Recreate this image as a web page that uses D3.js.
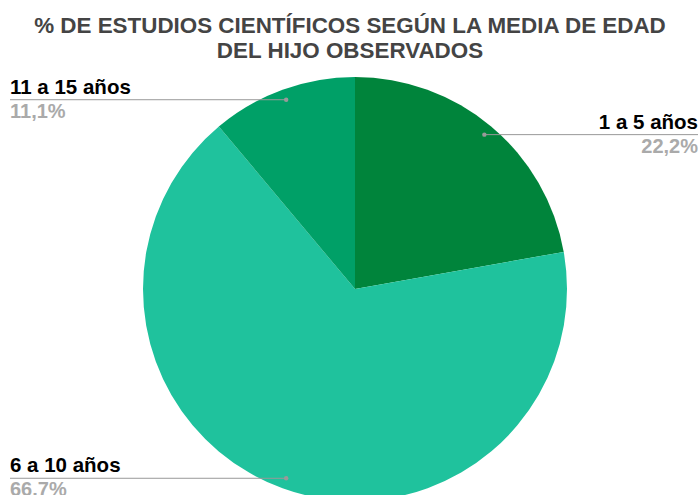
<!DOCTYPE html>
<html>
<head>
<meta charset="utf-8">
<script src="https://cdn.jsdelivr.net/npm/d3@7"></script>
<style>
  html, body { margin: 0; padding: 0; background: #fff; }
  svg { display: block; }
  text { font-family: "Liberation Sans", Arial, sans-serif; }
</style>
</head>
<body>
<svg id="chart" width="700" height="495"></svg>
<script>
// Age groups of the observed child and their share of studies
const categories = ["1 a 5 años", "6 a 10 años", "11 a 15 años"];
const values = [22.2, 66.7, 11.1];
const pctLabels = ["22,2%", "66.7%", "11,1%"];
const colors = ["#00843b", "#1fc29d", "#00a067"];
const titleLines = ["% DE ESTUDIOS CIENTÍFICOS SEGÚN LA MEDIA DE EDAD", "DEL HIJO OBSERVADOS"];

const W = 700, H = 495;
const cx = 355, cy = 289, R = 212;

const svg = d3.select("#chart");

// Title
svg.append("g").selectAll("text")
  .data(titleLines)
  .join("text")
  .attr("x", W / 2)
  .attr("y", (d, i) => 33 + i * 24.5)
  .attr("text-anchor", "middle")
  .attr("font-size", 22.4)
  .attr("font-weight", "bold")
  .attr("fill", "#444")
  .text(d => d);

const data = categories.map((c, i) => ({ cat: c, value: values[i], pct: pctLabels[i], color: colors[i] }));

const pie = d3.pie().sort(null).value(d => d.value);
const arcs = pie(data);
const arc = d3.arc().innerRadius(0).outerRadius(R);
const anchorArc = d3.arc().innerRadius(R * 0.95).outerRadius(R * 0.95);

const g = svg.append("g").attr("transform", `translate(${cx},${cy})`);

g.selectAll("path")
  .data(arcs)
  .join("path")
  .attr("d", arc)
  .attr("fill", d => d.data.color);

// Leader lines and labels
const labels = svg.append("g");
arcs.forEach(a => {
  const [px, py] = anchorArc.centroid(a);
  const x = cx + px, y = cy + py;
  const mid = (a.startAngle + a.endAngle) / 2;
  const right = Math.sin(mid) > 0;
  const x2 = right ? 698 : 10;
  labels.append("line")
    .attr("x1", x).attr("y1", y)
    .attr("x2", x2).attr("y2", y)
    .attr("stroke", "#999").attr("stroke-width", 1);
  labels.append("circle")
    .attr("cx", x).attr("cy", y).attr("r", 2.2)
    .attr("fill", "#999");
  labels.append("text")
    .attr("x", x2).attr("y", y - 6)
    .attr("text-anchor", right ? "end" : "start")
    .attr("font-size", 20.5).attr("font-weight", "bold")
    .attr("fill", "#000")
    .text(a.data.cat);
  labels.append("text")
    .attr("x", x2).attr("y", y + 18)
    .attr("text-anchor", right ? "end" : "start")
    .attr("font-size", 20).attr("font-weight", "bold")
    .attr("fill", "#aaa")
    .text(a.data.pct);
});
</script>
</body>
</html>
